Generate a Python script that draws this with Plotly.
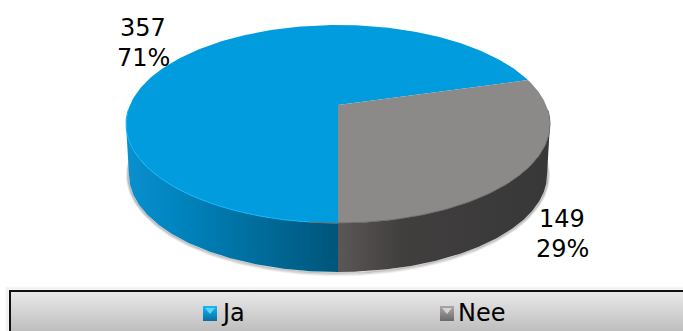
import numpy as np
import plotly.graph_objects as go

# Survey answers
categories = ["Ja", "Nee"]
counts = [357, 149]

top_colors = ["#009CDE", "#8C8989"]
edge_colors = ["#14B4FA", "#6E6C6C"]
wall_scales = [
    [[0.0, "#0A90CE"], [0.25, "#0084BE"], [0.6, "#006E9E"], [1.0, "#00557A"]],
    [[0.0, "#5C5757"], [0.3, "#413E3E"], [1.0, "#383838"]],
]
swatch_scales = [
    [[0.0, "#1FB6F2"], [0.5, "#0A93CF"], [1.0, "#0B6E9C"]],
    [[0.0, "#A8A6A6"], [0.5, "#8C8A8A"], [1.0, "#6A6868"]],
]
swatch_glints = ["#5FD4FA", "#D4D2D2"]

# Drawing geometry, in page pixels
W, H = 683, 331
CX, CY, RX, RY = 338.0, 124.0, 212.0, 99.0
BX, BY, BRX, BRY = 338.0, 175.0, 209.0, 97.0
TILT = 0.192            # perspective pull of the pie centre towards the back
START_DEG = -90.0       # "Nee" starts at the front of the pie and runs counter-clockwise

total = sum(counts)
shares = [c / total for c in counts]


def project(deg):
    """Map an angle on the round pie onto the tilted, foreshortened top face."""
    a = np.radians(deg)
    u, v = np.cos(a), np.sin(a)
    d = 1 + TILT * v
    return CX + RX * u * np.sqrt(1 - TILT**2) / d, CY - RY * (v + TILT) / d


def ellipse(cx, cy, rx, ry, t0, t1, n=120):
    t = np.radians(np.linspace(t0, t1, n))
    return cx + rx * np.cos(t), cy - ry * np.sin(t)


nee_end = START_DEG + 360 * shares[1]
face_spans = {"Ja": (nee_end, START_DEG + 360), "Nee": (START_DEG, nee_end)}
wall_spans = {"Ja": (180, 270), "Nee": (270, 360)}

fig = go.Figure()


def polygon(x, y, **kw):
    fig.add_trace(go.Scatter(x=x, y=y, mode="lines", fill="toself", line=dict(width=0),
                             hoverinfo="skip", showlegend=False, **kw))


# Soft shadow under the front edge of the pie
for grow, alpha in [(5, 0.05), (4, 0.07), (3, 0.09), (2, 0.13), (1, 0.2)]:
    sx, sy = ellipse(BX, BY, BRX + grow * 0.5, BRY + grow * 0.7, 170, 372)
    fig.add_trace(go.Scatter(x=sx, y=sy, mode="lines", hoverinfo="skip", showlegend=False,
                             line=dict(color=f"rgba(60,60,60,{alpha})", width=1.6)))

# Side walls
for i, name in enumerate(categories):
    t0, t1 = wall_spans[name]
    tx, ty = ellipse(CX, CY, RX, RY, t0, t1)
    bx, by = ellipse(BX, BY, BRX, BRY, t1, t0)
    x = np.r_[tx, bx, tx[0]]
    y = np.r_[ty, by, ty[0]]
    polygon(x, y, fillgradient=dict(type="horizontal", colorscale=wall_scales[i],
                                    start=float(x.min()), stop=float(x.max())))

# Top face slices and their front-edge highlight
apex_x, apex_y = CX, CY - RY * TILT
for i, name in enumerate(categories):
    a0, a1 = face_spans[name]
    ax, ay = project(np.linspace(a0, a1, 240))
    polygon(np.r_[apex_x, ax, apex_x], np.r_[apex_y, ay, apex_y], fillcolor=top_colors[i])

for i, name in enumerate(categories):
    t0, t1 = wall_spans[name]
    ex, ey = ellipse(CX, CY, RX, RY, t0 - 8, t1 + 8 if name == "Nee" else t1)
    fig.add_trace(go.Scatter(x=ex, y=ey, mode="lines", hoverinfo="skip", showlegend=False,
                             line=dict(color=edge_colors[i], width=1)))

# Value labels: count above percentage
percent = [round(s * 100) for s in shares]
label_pos = [(143, 28, 58), (562, 219, 249)]
for i, (lx, y_count, y_pct) in enumerate(label_pos):
    for text, ly in [(str(counts[i]), y_count), (f"{percent[i]}%", y_pct)]:
        fig.add_annotation(x=lx, y=ly, text=text, showarrow=False,
                           font=dict(family="DejaVu Sans", size=24, color="#000000"),
                           xanchor="center", yanchor="middle", align="center")

# Legend band with its gradient and dark outline
band_x = [10, 690, 690, 10, 10]
band_y = [291, 291, 340, 340, 291]
for off, alpha in [(4, 0.04), (3, 0.06), (2, 0.09)]:
    fig.add_trace(go.Scatter(x=[10 - off, 10 - off, 690], y=[340, 291 - off, 291 - off],
                             mode="lines", hoverinfo="skip", showlegend=False,
                             line=dict(color=f"rgba(60,60,60,{alpha})", width=1.2)))
polygon(band_x, band_y, fillgradient=dict(type="vertical", start=291, stop=331,
                                          colorscale=[[0, "#EAEAEA"], [1, "#BEBEBE"]]))
fig.add_trace(go.Scatter(x=[10, 10, 690], y=[340, 291, 291], mode="lines", hoverinfo="skip",
                         showlegend=False, line=dict(color="#111111", width=2)))

# Legend entries
swatch_left = [203, 440]
for i, name in enumerate(categories):
    x0 = swatch_left[i]
    x1, y0, y1 = x0 + 14, 306, 321
    polygon([x0, x1, x1, x0, x0], [y0, y0, y1, y1, y0],
            fillgradient=dict(type="vertical", start=y0, stop=y1, colorscale=swatch_scales[i]))
    polygon([x0 + 2, x1 - 2, x0 + 7, x0 + 2], [y0 + 2, y0 + 2, y0 + 8, y0 + 2],
            fillcolor=swatch_glints[i])
    fig.add_annotation(x=x1 + 2, y=313, text=name, showarrow=False, xanchor="left",
                       yanchor="middle", font=dict(family="DejaVu Sans", size=24, color="#000000"))

fig.update_layout(
    width=W, height=H, margin=dict(l=0, r=0, t=0, b=0),
    paper_bgcolor="#FFFFFF", plot_bgcolor="#FFFFFF", showlegend=False,
    xaxis=dict(range=[0, W], visible=False, fixedrange=True),
    yaxis=dict(range=[H, 0], visible=False, fixedrange=True),
)
fig.write_html("out.html", config=dict(displayModeBar=False))
